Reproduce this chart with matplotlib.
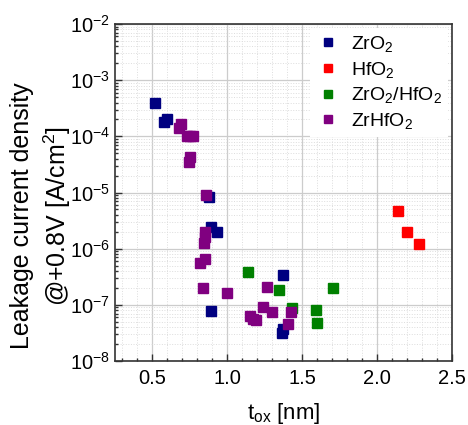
import numpy as np
import matplotlib
matplotlib.use("Agg")
import matplotlib.pyplot as plt
import matplotlib.ticker as mtick

plt.rcParams['font.family'] = ['Liberation Sans', 'DejaVu Sans']
plt.rcParams['mathtext.fontset'] = 'custom'
plt.rcParams['mathtext.rm'] = 'Liberation Sans'
plt.rcParams['mathtext.it'] = 'Liberation Sans'
plt.rcParams['mathtext.default'] = 'regular'

# thickness [nm] / leakage [A/cm^2]
zro2_t = [0.52, 0.58, 0.60, 0.88, 0.89, 0.93, 0.89, 1.37, 1.37, 1.365]
zro2_j = [4.0e-4, 1.8e-4, 2.0e-4, 8.4e-6, 2.47e-6, 2.0e-6, 7.8e-8, 3.4e-7, 3.7e-8, 3.2e-8]

hfo2_t = [2.14, 2.20, 2.28]
hfo2_j = [4.6e-6, 2.0e-6, 1.2e-6]

stack_t = [1.136, 1.343, 1.433, 1.593, 1.598, 1.707]
stack_j = [3.8e-7, 1.82e-7, 8.9e-8, 8.2e-8, 4.7e-8, 1.97e-7]

zrhf_t = [0.69, 0.68, 0.73, 0.75, 0.77, 0.75, 0.745, 0.858, 0.854, 0.85, 0.846,
          0.85, 0.818, 0.84, 0.996, 1.263, 1.24, 1.298, 1.423, 1.15, 1.173, 1.19, 1.405]
zrhf_j = [1.64e-4, 1.39e-4, 1.02e-4, 1.0e-4, 1.03e-4, 4.2e-5, 3.45e-5, 9.1e-6, 2.0e-6, 1.64e-6, 1.25e-6,
          6.45e-7, 5.5e-7, 1.96e-7, 1.6e-7, 2.05e-7, 9.3e-8, 7.5e-8, 7.5e-8, 6.2e-8, 5.5e-8, 5.4e-8, 4.6e-8]

fig = plt.figure(figsize=(4.68, 4.25), dpi=100)
ax = fig.add_axes([0.2457, 0.1506, 0.7201, 0.7929])

ms = 6.5
ax.plot(zro2_t, zro2_j, 's', color='#000080', ms=ms, label='ZrO$_2$', zorder=3)
ax.plot(hfo2_t, hfo2_j, 's', color='#ff0000', ms=ms, label='HfO$_2$', zorder=3)
ax.plot(stack_t, stack_j, 's', color='#008000', ms=ms, label='ZrO$_2$/HfO$_2$', zorder=3)
ax.plot(zrhf_t, zrhf_j, 's', color='#800080', ms=ms, label='ZrHfO$_2$', zorder=3)

ax.set_yscale('log')
ax.set_xlim(0.25, 2.5)
ax.set_ylim(1e-8, 1e-2)
ax.xaxis.set_major_locator(mtick.MultipleLocator(0.5))
ax.xaxis.set_minor_locator(mtick.MultipleLocator(0.1))
ax.xaxis.set_major_formatter(mtick.FormatStrFormatter('%.1f'))
ax.yaxis.set_major_locator(mtick.LogLocator(base=10, numticks=10))
ax.yaxis.set_minor_locator(mtick.LogLocator(base=10, subs=np.arange(2, 10), numticks=10))
ax.yaxis.set_minor_formatter(mtick.NullFormatter())

ax.tick_params(which='both', direction='in', top=False, right=False, labelsize=14.5, width=1, color='#333333')
ax.tick_params(which='major', length=5)
ax.tick_params(which='minor', length=2.5)
ax.tick_params(axis='x', pad=6)

ax.grid(which='major', color='#cccccc', lw=0.9, ls='-')
ax.grid(which='minor', color='#dddddd', lw=0.7, ls=':')
ax.set_axisbelow(True)
for s in ax.spines.values():
    s.set_color('#333333')
    s.set_linewidth(1.2)

ax.set_ylabel('Leakage current density\n@+0.8V [A/cm$^2$]', fontsize=18, linespacing=1.3)
ax.yaxis.set_label_coords(-0.125, 0.43)
ax.set_xlabel('t$_{ox}$ [nm]', fontsize=16, labelpad=9)

leg = ax.legend(loc='upper right', fontsize=14, frameon=True, fancybox=False,
                edgecolor='none', facecolor='white', framealpha=1,
                handlelength=1.2, handletextpad=0.6, labelspacing=0.3,
                borderaxespad=0.2, borderpad=0.3, markerscale=0.9)

fig.savefig('out.png', dpi=100)
